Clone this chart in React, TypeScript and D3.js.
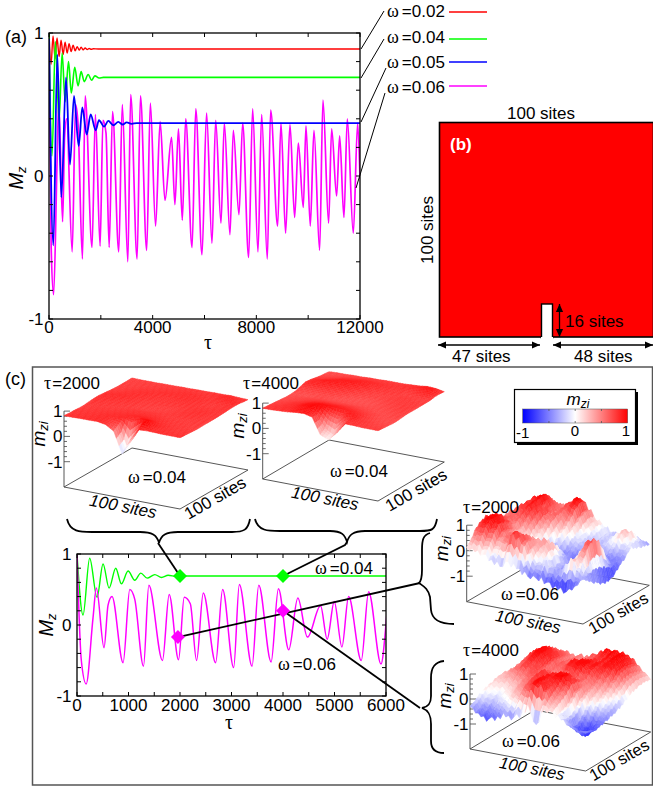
import React from "react";
import * as d3 from "d3";

// ---------- time series (tau, Mz) ----------
const redTau = [0,80,155,235,310,390,465,545,620,700,775,855,930,1010,1085,1165,1240,1320,1395,1475,1550,1630,1705,1900,12000];
const redM = [1,.78,.98,.82,.965,.835,.95,.85,.935,.86,.925,.87,.915,.875,.905,.88,.90,.882,.895,.885,.892,.886,.89,.888,.888];
const greenTau = [0,117,246,389,506,623,752,862,992,1122,1239,1362,1511,1641,1770,1932,2100,12000];
const greenM = [1,.14,.94,.39,.86,.52,.80,.58,.76,.63,.73,.66,.71,.67,.70,.685,.69,.69];
const blueTau = [0,167,321,476,656,810,965,1145,1286,1453,1608,1800,1929,2122,2289,2482,2675,2842,2996,3189,3382,12000];
const blueM = [.96,-.485,.85,-.15,.69,.08,.56,.21,.48,.29,.43,.32,.39,.345,.385,.355,.378,.36,.375,.365,.37,.37];
const magentaTau = [0,84,178,311,376,525,603,680,895,1025,1122,1291,1395,1660,1790,1972,2082,2200,2322,2452,2692,2828,3042,3152,3399,3529,3769,3911,4112,4288,4475,4729,4858,4995,5144,5274,5520,5663,5903,6080,6289,6431,6636,6765,6983,7112,7330,7472,7703,7858,8063,8205,8423,8552,8822,8950,9130,9298,9478,9620,9812,9915,10082,10224,10442,10571,10789,10906,11098,11214,11381,11510,11741,11909,12000];
const magentaM = [1,-.5,-.83,.1,.52,-.32,.28,.40,-.53,.5,.36,-.58,.56,-.5,.43,-.49,.39,.3,-.5,.45,-.53,.5,-.6,.57,-.58,.56,-.52,.51,-.35,.38,-.17,.27,-.2,.33,-.31,.4,-.5,.47,-.55,.44,-.47,.39,-.33,.37,-.41,.32,-.27,.37,-.57,.47,-.53,.43,-.58,.46,-.35,.37,-.4,.36,-.29,.23,-.22,.35,-.35,.32,-.52,.53,-.33,.33,-.14,.28,-.29,.4,-.4,.37,-.02];

const panelATicksX = [0,2000,4000,6000,8000,10000,12000];
const panelALabelsX = [0,4000,8000,12000];
const insetTicksX = d3.range(0, 6001, 500);
const insetLabelsX = [0,1000,2000,3000,4000,5000,6000];
const yTicks = d3.range(-5, 6).map((d) => d / 5);
const yLabels = [1,0,-1];
const legendLabels = ["0.02","0.04","0.05","0.06"];
const legendColors = ["#ff0000","#00ff00","#0000ff","#ff00ff"];

// ---------- surfaces: local magnetisation on a coarse grid, rows = one in-plane axis ----------
const surfaceA = [
[.82,.82,.83,.83,.84,.78,.58,-.25,.35,.82,.84,.83,.82,.82,.82],
[.80,.81,.82,.83,.84,.80,.72,-.10,.42,1.0,.88,.83,.81,.80,.80],
[.80,.80,.81,.82,.84,.84,.86,.76,.95,.96,.86,.82,.80,.79,.79],
[.78,.79,.80,.81,.82,.83,.85,.87,.88,.86,.82,.80,.79,.78,.77],
[.78,.78,.79,.79,.80,.81,.82,.83,.83,.82,.80,.79,.78,.77,.77],
[.80,.79,.78,.78,.78,.79,.80,.80,.80,.79,.78,.78,.78,.78,.78],
[.82,.81,.80,.79,.78,.77,.76,.76,.77,.78,.79,.80,.80,.79,.78],
[.83,.83,.82,.81,.80,.78,.77,.76,.76,.77,.79,.81,.82,.80,.78],
[.81,.83,.84,.83,.81,.79,.78,.78,.78,.78,.79,.81,.82,.81,.79],
[.79,.80,.82,.83,.82,.81,.80,.80,.80,.80,.80,.80,.80,.80,.80],
[.77,.78,.80,.82,.83,.82,.81,.81,.82,.82,.81,.79,.78,.80,.82],
[.76,.77,.78,.80,.81,.82,.83,.83,.83,.83,.82,.80,.79,.80,.83],
[.76,.76,.77,.78,.79,.80,.81,.82,.83,.82,.81,.80,.84,.86,.83],
[.76,.76,.77,.77,.78,.78,.79,.80,.80,.80,.80,.82,.86,.84,.80],
[.77,.76,.76,.76,.77,.77,.78,.78,.79,.79,.80,.80,.81,.79,.78],
];
const surfaceB = [
[.80,.80,.82,.84,.88,.90,.82,.18,.05,.38,.80,.80,.78,.78,.78],
[.78,.80,.82,.86,.92,.94,.78,.32,.12,.55,.85,.80,.78,.76,.76],
[.76,.78,.82,.86,.94,.98,.95,.70,.62,.90,.88,.80,.76,.74,.74],
[.74,.76,.80,.84,.90,.94,.94,.92,.90,.88,.84,.78,.74,.72,.72],
[.72,.74,.76,.80,.84,.86,.86,.86,.84,.82,.78,.76,.72,.72,.72],
[.70,.72,.74,.76,.78,.78,.78,.78,.78,.76,.74,.72,.72,.74,.74],
[.70,.70,.70,.72,.72,.72,.72,.72,.72,.72,.72,.72,.74,.76,.76],
[.72,.72,.72,.72,.72,.70,.70,.70,.70,.70,.72,.74,.76,.78,.76],
[.78,.78,.78,.78,.76,.74,.72,.70,.70,.72,.74,.76,.78,.78,.76],
[.84,.86,.86,.84,.82,.80,.76,.74,.74,.74,.76,.78,.78,.78,.76],
[.82,.86,.90,.90,.88,.84,.82,.78,.76,.76,.76,.78,.78,.76,.76],
[.78,.80,.84,.88,.90,.90,.86,.82,.80,.78,.78,.76,.76,.76,.76],
[.74,.76,.78,.82,.84,.86,.86,.84,.82,.80,.80,.78,.82,.86,.80],
[.72,.72,.74,.76,.78,.80,.80,.80,.80,.80,.82,.84,.90,.92,.80],
[.70,.72,.72,.74,.74,.76,.76,.78,.78,.78,.80,.82,.86,.84,.78],
];
const surfaceC = [
[.10,.05,-.05,-.20,-.35,-.15,-.30,-.50,-.55,-.60,-.70,-.80,-.90,-.60,-.25],
[.35,.55,.35,.10,.40,.80,.55,.05,-.25,-.05,-.30,-.20,.30,-.20,-.40],
[.65,.85,.70,.40,.55,.80,.60,.25,.10,-.20,-.45,-.30,.10,.25,-.60],
[.80,1.0,.90,.60,.45,.55,.50,.30,.30,-.05,-.35,-.20,.30,.65,-.70],
[.90,1.0,.85,.50,.30,.30,.35,.35,.30,-.25,-.45,-.10,.55,.80,-.85],
[.80,.90,.70,.40,.15,.10,.10,.15,.05,-.35,-.55,-.35,.30,.60,-.90],
[.55,.70,.50,.30,.10,-.10,-.20,-.15,-.25,-.45,-.65,-.55,-.10,.15,-.85],
[.45,.60,.55,.45,.30,-.05,-.25,-.40,-.50,-.55,-.60,-.65,-.45,-.35,-.70],
[.50,.55,.65,.70,.45,.15,-.15,-.30,-.40,-.35,-.40,-.50,-.55,-.50,-.50],
[.55,.65,.80,.85,.60,.35,.10,-.10,-.20,-.25,-.30,-.35,-.40,-.40,-.35],
[.50,.75,.85,.80,.65,.50,.30,.05,-.15,-.25,-.30,-.20,-.05,-.25,-.10],
[.45,.70,.90,.75,.55,.55,.55,.20,-.10,-.20,-.25,-.15,.15,.10,-.20],
[.40,.75,1.0,.85,.50,.60,.85,.35,.05,-.15,-.20,-.10,.20,.25,-.30],
[.30,.60,.85,.70,.45,.75,1.0,.45,.15,-.10,-.20,-.25,-.10,-.05,-.35],
[.20,.40,.60,.50,.40,.65,.85,.40,.10,-.15,-.25,-.30,-.30,-.30,-.40],
];
const surfaceD = [
[-.30,-.55,-.70,-.60,-.40,-.45,-.30,.15,-.60,.15,.05,-.10,-.30,-.45,-.50],
[-.20,-.45,-.50,-.30,-.10,.10,.45,.85,.90,.45,.20,-.20,-.55,-.70,-.50],
[-.05,-.20,-.25,-.05,.15,.35,.70,.95,.85,.60,.30,-.20,-.70,-.85,-.60],
[.05,-.05,-.10,.10,.30,.50,.75,.90,.80,.75,.45,-.05,-.55,-.75,-.55],
[.10,.05,.05,.20,.40,.60,.80,.85,.95,1.0,.70,.20,-.25,-.50,-.50],
[.15,.15,.20,.35,.50,.65,.80,.80,1.0,.95,.70,.35,.05,-.20,-.45],
[.20,.30,.40,.55,.65,.70,.75,.70,.80,.75,.60,.40,.20,-.05,-.40],
[.20,.40,.60,.75,.70,.60,.55,.55,.60,.60,.55,.50,.35,.10,-.30],
[.15,.40,.65,.85,.75,.55,.50,.65,.85,.80,.70,.65,.50,.25,-.20],
[.10,.45,.75,.95,.80,.55,.60,.85,1.0,.95,.85,.80,.70,.40,-.10],
[.05,.50,.85,1.0,.85,.60,.60,.80,.95,.90,.85,.90,.90,.55,.05],
[.05,.50,.90,1.0,.80,.55,.55,.65,.75,.80,.85,.95,.95,.60,.10],
[.00,.45,.80,.85,.70,.50,.50,.55,.65,.75,.90,1.0,.90,.55,.15],
[.00,.35,.65,.70,.60,.50,.50,.55,.70,.85,1.0,1.0,.85,.50,.15],
[.00,.30,.50,.55,.50,.45,.50,.60,.80,1.0,1.0,.90,.70,.40,.10],
];
// Estimated fine surface roughness across the two ω=0.06 surfaces (one value per drawn strip).
const roughnessC = [.02,-.06,.08,-.04,.1,-.08,.03,.12,-.1,.05,-.12,.14,-.02,-.09,.11,.04,-.14,.13,-.05,.08,-.11,.15,-.03,-.12,.09,.02,-.08,.16,-.1,.04,.11,-.13,.06,-.03,.12,-.09,.05,.1,-.07,.02,-.05,.06,0];
const roughnessD = [0,.05,-.07,.06,-.03,.09,-.08,.04,.11,-.09,.07,-.12,.13,-.04,.08,-.1,.03,.14,-.11,.06,-.15,.12,.02,-.09,.1,-.06,.13,-.02,-.1,.08,.04,-.12,.09,-.05,.07,-.08,.1,-.04,.05,-.06,.03,.02,0];

const SANS = "'Liberation Sans', Arial, sans-serif";
const SERIF = "'Liberation Serif', serif";
const colorOf = d3.scaleLinear<string>().domain([-1, 0, 1]).range(["#0000ff", "#ffffff", "#ff0000"]);

function Lbl({ x, y, children, size = 17, anchor = "start", fill = "#000", rotate, weight, italic }: any) {
  return (
    <text x={x} y={y} fontFamily={SANS} fontSize={size} textAnchor={anchor} fill={fill} fontWeight={weight}
      fontStyle={italic ? "italic" : undefined} transform={rotate !== undefined ? `rotate(${rotate} ${x} ${y})` : undefined}>
      {children}
    </text>
  );
}
const Sym = ({ x, y, c, v }: any) => (
  <Lbl x={x} y={y}><tspan fontFamily={SERIF} fontSize={18}>{c}</tspan><tspan dx={c === "ω" ? 3 : 1}>={v}</tspan></Lbl>
);
const MLabel = ({ x, y, sub, lower }: any) => (
  <text transform={`translate(${x} ${y}) rotate(-90)`} fontFamily={SANS} fontSize={lower ? 19 : 20} fontStyle="italic" textAnchor="middle">
    {lower ? "m" : "M"}<tspan fontSize={13} dy={3}>{sub}</tspan>
  </text>
);

function Curve({ xs, ys, x, y, color, width }: any) {
  const line = d3.line<number>().x((_, i) => x(xs[i])).y((d) => y(d)).curve(d3.curveMonotoneX);
  return <path d={line(ys) as string} fill="none" stroke={color} strokeWidth={width} strokeLinejoin="round" />;
}

function Frame({ x, y, ticksX, labelsX, labelY, size = 17 }: any) {
  const [x0, x1] = x.range();
  const [y0, y1] = y.range();
  return (
    <g>
      <rect x={x0} y={y1} width={x1 - x0} height={y0 - y1} fill="none" stroke="#000" strokeWidth={1.3} />
      {ticksX.map((t: number) => (
        <g key={t} stroke="#000" strokeWidth={1}>
          <line x1={x(t)} x2={x(t)} y1={y0} y2={y0 - 4} />
          <line x1={x(t)} x2={x(t)} y1={y1} y2={y1 + 4} />
        </g>
      ))}
      {yTicks.map((t) => (
        <g key={t} stroke="#000" strokeWidth={1}>
          <line x1={x0} x2={x0 + 4} y1={y(t)} y2={y(t)} />
          <line x1={x1} x2={x1 - 4} y1={y(t)} y2={y(t)} />
        </g>
      ))}
      {labelsX.map((t: number) => (
        <Lbl key={t} x={x(t)} y={labelY} anchor="middle" size={size}>{t}</Lbl>
      ))}
      {yLabels.map((t) => (
        <Lbl key={t} x={x0 - 5.5} y={y(t) + 6} anchor="end" size={size}>{t}</Lbl>
      ))}
    </g>
  );
}

function Surface({ left, front, back, data, zUnit, rough }: any) {
  const n = data.length - 1;
  const sub = 3;
  const u = d3.scaleLinear().domain([0, 1]).range([0, front[0] - left[0]]);
  const uy = d3.scaleLinear().domain([0, 1]).range([0, front[1] - left[1]]);
  const v = d3.scaleLinear().domain([0, 1]).range([0, back[0] - left[0]]);
  const vy = d3.scaleLinear().domain([0, 1]).range([0, back[1] - left[1]]);
  const zy = d3.scaleLinear().domain([-2, 1]).range([0, -3 * zUnit]);
  const px = (a: number, b: number, z: number): [number, number] => [
    left[0] + u(a) + v(b),
    left[1] + uy(a) + vy(b) + zy(z),
  ];
  const right = [left[0] + u(1) + v(1), left[1] + uy(1) + vy(1)];
  const m = n * sub;
  const height = (p: number, q: number) => {
    const fa = Math.min((p / m) * n, n - 1e-6), fb = Math.min((q / m) * n, n - 1e-6);
    const i = Math.floor(fa), j = Math.floor(fb);
    const s = fa - i, t = fb - j;
    const h = d3.interpolate(
      d3.interpolate(data[j][i], data[j][i + 1])(s),
      d3.interpolate(data[j + 1][i], data[j + 1][i + 1])(s)
    )(t) as number;
    return rough ? Math.max(-1, Math.min(1, h + rough[p] * 0.8 + rough[m - q] * 0.35)) : h;
  };
  const cells: React.ReactElement[] = [];
  for (let b = m - 1; b >= 0; b--) {
    for (let a = 0; a < m; a++) {
      const corners = [[a, b], [a + 1, b], [a + 1, b + 1], [a, b + 1]].map(([p, q]) => {
        const h = height(p, q);
        return { h, pt: px(p / m, q / m, h) };
      });
      const mean = d3.mean(corners, (c) => c.h) as number;
      const c = colorOf(mean);
      cells.push(
        <polygon key={`${a}-${b}`} points={corners.map((c) => c.pt.join(",")).join(" ")} fill={c} stroke={c} strokeWidth={0.5} />
      );
    }
  }
  const zTicks = d3.range(-5, 6).map((d) => d / 5);
  return (
    <g>
      <polygon points={[left, front, right, back].map((p) => p.join(",")).join(" ")} fill="none" stroke="#444" strokeWidth={0.9} />
      <line x1={left[0]} x2={left[0]} y1={left[1]} y2={left[1] + zy(1)} stroke="#444" strokeWidth={0.9} />
      {zTicks.map((t) => (
        <line key={t} x1={left[0]} x2={left[0] + (Number.isInteger(t) ? 6 : 3)} y1={left[1] + zy(t)} y2={left[1] + zy(t)} stroke="#444" strokeWidth={0.8} />
      ))}
      {cells}
    </g>
  );
}

function ZLabels({ left, zUnit }: any) {
  return (
    <g>
      {[1, 0, -1].map((t) => (
        <Lbl key={t} x={left[0] - 1.5} y={left[1] - (t + 2) * zUnit + 6} anchor="end" size={17}>{t}</Lbl>
      ))}
      <MLabel x={left[0] - 19} y={left[1] - 53} sub="zi" lower />
    </g>
  );
}

const Arrow = ({ x1, y1, x2, y2 }: any) => {
  const a = Math.atan2(y2 - y1, x2 - x1);
  const head = (px: number, py: number, s: number) => {
    const ca = Math.cos(a) * s, sa = Math.sin(a) * s;
    const L = 8, W = 3.6;
    return `${px},${py} ${px - ca * L - sa * W},${py - sa * L + ca * W} ${px - ca * L + sa * W},${py - sa * L - ca * W}`;
  };
  return (
    <g>
      <line x1={x1} y1={y1} x2={x2} y2={y2} stroke="#000" strokeWidth={1.3} />
      <polygon points={head(x2, y2, 1)} fill="#000" />
      <polygon points={head(x1, y1, -1)} fill="#000" />
    </g>
  );
};

const Diamond = ({ x, y, fill }: any) => (
  <polygon points={`${x - 7},${y} ${x},${y - 7} ${x + 7},${y} ${x},${y + 7}`} fill={fill} />
);

const SiteLabels = ({ a, b, size = 17 }: any) => (
  <g>
    <Lbl x={a[0]} y={a[1]} anchor="middle" italic rotate={11} size={size}>100 sites</Lbl>
    <Lbl x={b[0]} y={b[1]} anchor="middle" rotate={-30} size={size}>100 sites</Lbl>
  </g>
);

export default function App() {
  const ax = d3.scaleLinear().domain([0, 12000]).range([49, 360]);
  const ay = d3.scaleLinear().domain([-1, 1]).range([319, 33]);
  const ix = d3.scaleLinear().domain([0, 6000]).range([77, 386]);
  const iy = d3.scaleLinear().domain([-1, 1]).range([696, 554]);
  const legendY = [12, 39, 62, 86];
  const textY = [17, 43, 68, 93];
  const leaders = [[361, 49, 384, 11], [361, 78, 384, 39], [361, 122, 386, 68], [356, 188, 385, 93]];
  const barX = d3.scaleLinear().domain([-1, 1]).range([522.7, 627.7]);
  const braces = [
    "M67,519 C70,532 80,532 92,532 L140,532 C152,532 157,535 159,543 C161,535 166,532 178,532 L232,532 C244,532 248,530 250,519",
    "M255,519 C258,531 268,531 280,531 L330,531 C342,531 345,535 347,542 C349,535 353,531 365,531 L420,531 C432,531 435,530 437,519",
    "M430,533 C423,535 422,540 422,550 L422,570 C422,578 421,581 419,583 C423,586 428,588 430,597 L431,610 C432,620 440,624 454,624",
    "M444,661 C434,662 431,668 431,678 L431,696 C431,704 428,707 422,708 C428,710 431,714 431,724 L431,741 C431,750 436,753 444,753",
  ];
  const stops = d3.range(0, 11).map((d) => d / 10);
  return (
    <svg width={653} height={792} style={{ position: "absolute", left: 0, top: 0, background: "#fff" }}>
      <defs>
        <clipPath id="clipA"><rect x={49} y={33} width={311} height={286} /></clipPath>
        <clipPath id="clipI"><rect x={77} y={554} width={309} height={142} /></clipPath>
        <linearGradient id="barGrad">
          {stops.map((s) => <stop key={s} offset={s} stopColor={colorOf(s * 2 - 1)} />)}
        </linearGradient>
      </defs>

      {/* panel a */}
      <Lbl x={5} y={43} size={18}>(a)</Lbl>
      <g clipPath="url(#clipA)">
        <Curve xs={magentaTau} ys={magentaM} x={ax} y={ay} color="#ff00ff" width={1.7} />
        <Curve xs={redTau} ys={redM} x={ax} y={ay} color="#ff0000" width={1.4} />
        <Curve xs={greenTau} ys={greenM} x={ax} y={ay} color="#00ff00" width={1.6} />
        <Curve xs={blueTau} ys={blueM} x={ax} y={ay} color="#0000ff" width={1.8} />
      </g>
      <Frame x={ax} y={ay} ticksX={panelATicksX} labelsX={panelALabelsX} labelY={333} />
      <MLabel x={23} y={178} sub="z" />
      <text x={208} y={349} textAnchor="middle" fontFamily={SERIF} fontSize={20}>τ</text>
      {leaders.map((l, i) => <line key={i} x1={l[0]} y1={l[1]} x2={l[2]} y2={l[3]} stroke="#000" strokeWidth={1} />)}
      {legendLabels.map((v, i) => (
        <g key={v}>
          <Sym x={387} y={textY[i]} c="ω" v={v} />
          <line x1={449} x2={487} y1={legendY[i]} y2={legendY[i]} stroke={legendColors[i]} strokeWidth={1.3} />
        </g>
      ))}

      {/* panel b */}
      <rect x={439.5} y={122.5} width={214} height={214.5} fill="#ff0000" stroke="#000" strokeWidth={1.6} />
      <rect x={541.5} y={304} width={11} height={34} fill="#fff" stroke="#000" strokeWidth={1.4} />
      <line x1={541} x2={553} y1={338} y2={338} stroke="#fff" strokeWidth={2} />
      <Lbl x={450} y={150} fill="#fff" weight="bold">(b)</Lbl>
      <Lbl x={541} y={119} anchor="middle">100 sites</Lbl>
      <Lbl x={433} y={230} anchor="middle" rotate={-90}>100 sites</Lbl>
      <Arrow x1={559.5} y1={304} x2={559.5} y2={337} />
      <Lbl x={565} y={327}>16 sites</Lbl>
      <Arrow x1={438} y1={345} x2={540} y2={345} />
      <Arrow x1={553} y1={345} x2={653} y2={345} />
      <Lbl x={452} y={362}>47 sites</Lbl>
      <Lbl x={574} y={362}>48 sites</Lbl>

      {/* panel c */}
      <Lbl x={5} y={385} size={18}>(c)</Lbl>
      <rect x={32.5} y={367} width={620} height={418} fill="none" stroke="#555" strokeWidth={1.5} />

      <Surface left={[64, 487]} front={[180, 509]} back={[132, 448]} data={surfaceA} zUnit={25.3} />
      <ZLabels left={[64, 487]} zUnit={25.3} />
      <Sym x={44} y={389} c="τ" v="2000" />
      <Sym x={128} y={483} c="ω" v="0.04" />
      <SiteLabels a={[122, 512]} b={[218, 503]} />

      <Surface left={[262.7, 479]} front={[378, 501]} back={[329, 440]} data={surfaceB} zUnit={25.3} />
      <ZLabels left={[262.7, 479]} zUnit={25.3} />
      <Sym x={243} y={389} c="τ" v="4000" />
      <Sym x={330} y={477} c="ω" v="0.04" />
      <SiteLabels a={[324, 504]} b={[419, 495]} />

      <Surface left={[466.7, 601.7]} front={[583, 624]} back={[533, 563]} data={surfaceC} zUnit={25.5} rough={roughnessC} />
      <ZLabels left={[466.7, 601.7]} zUnit={25.5} />
      <Sym x={463} y={513} c="τ" v="2000" />
      <Sym x={501} y={600} c="ω" v="0.06" />
      <SiteLabels a={[527, 627]} b={[621, 618]} size={16.5} />

      <Surface left={[470, 749]} front={[585.7, 771]} back={[535, 710]} data={surfaceD} zUnit={25} rough={roughnessD} />
      <ZLabels left={[470, 749]} zUnit={25} />
      <Sym x={463} y={656} c="τ" v="4000" />
      <Sym x={502} y={747} c="ω" v="0.06" />
      <SiteLabels a={[531, 774]} b={[622, 765]} size={16.5} />

      {/* colour bar */}
      <rect x={517} y={392} width={121} height={53} fill="#000" />
      <rect x={514.5} y={389.5} width={121} height={53} fill="#fff" stroke="#000" strokeWidth={1.2} />
      <rect x={522.7} y={409} width={105} height={14} fill="url(#barGrad)" stroke="#555" strokeWidth={0.5} />
      {[-0.5, 0, 0.5].map((t) => (
        <g key={t} stroke="#555" strokeWidth={0.8}>
          <line x1={barX(t)} x2={barX(t)} y1={409} y2={411} />
          <line x1={barX(t)} x2={barX(t)} y1={421} y2={423} />
        </g>
      ))}
      <text x={578} y={405} textAnchor="middle" fontFamily={SANS} fontSize={17} fontStyle="italic">m<tspan fontSize={12} dy={3}>zi</tspan></text>
      <Lbl x={516} y={438} size={15}>-1</Lbl>
      <Lbl x={575} y={436} anchor="middle" size={15}>0</Lbl>
      <Lbl x={626} y={436} anchor="middle" size={15}>1</Lbl>

      {/* inset */}
      <g clipPath="url(#clipI)">
        <Curve xs={greenTau} ys={greenM} x={ix} y={iy} color="#00ff00" width={1.4} />
        <Curve xs={magentaTau} ys={magentaM} x={ix} y={iy} color="#ff00ff" width={1.5} />
      </g>
      <Frame x={ix} y={iy} ticksX={insetTicksX} labelsX={insetLabelsX} labelY={711} />
      <MLabel x={53} y={625} sub="z" />
      <text x={229} y={729} textAnchor="middle" fontFamily={SERIF} fontSize={20}>τ</text>
      <Sym x={315} y={574} c="ω" v="0.04" />
      <Sym x={278} y={670} c="ω" v="0.06" />

      {braces.map((d, i) => <path key={i} d={d} fill="none" stroke="#000" strokeWidth={1.8} />)}
      <g stroke="#000" strokeWidth={1.8}>
        <line x1={158} y1={543} x2={ix(2000)} y2={iy(0.69)} />
        <polyline points={`347,542 345,545 ${ix(4000)},${iy(0.69)}`} fill="none" />
        <line x1={ix(1960)} y1={iy(-0.17)} x2={420} y2={583} />
        <line x1={ix(4000)} y1={iy(0.2)} x2={420} y2={708} />
      </g>
      <Diamond x={ix(2000)} y={iy(0.69)} fill="#00ff00" />
      <Diamond x={ix(4000)} y={iy(0.69)} fill="#00ff00" />
      <Diamond x={ix(1960)} y={iy(-0.17)} fill="#ff00ff" />
      <Diamond x={ix(4000)} y={iy(0.2)} fill="#ff00ff" />
    </svg>
  );
}
